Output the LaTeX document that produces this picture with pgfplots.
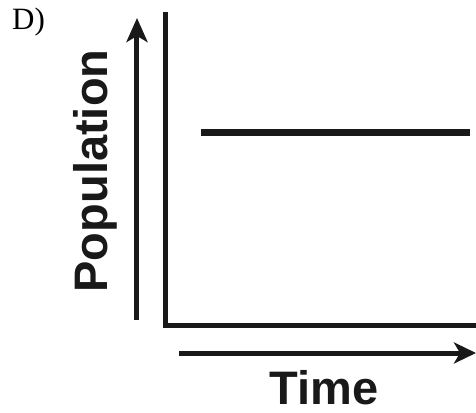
\documentclass[border=0pt]{standalone}
\usepackage{fontspec}
\setmainfont{Liberation Serif}
\newfontfamily\arial{Liberation Sans}
\newfontfamily\serifD{Liberation Serif}
\usepackage{pgfplots}
\pgfplotsset{compat=1.18}
\usetikzlibrary{arrows.meta}
\begin{document}
\begin{tikzpicture}
\begin{axis}[
    at={(0pt,0pt)}, anchor=south west,
    width=310pt, height=310pt, scale only axis,
    xmin=0, xmax=310, ymin=0, ymax=310,
    axis lines*=left,
    axis line style={line width=5pt, line cap=rect, black!90},
    xtick=\empty, ytick=\empty,
    clip=false,
    xlabel={Time}, ylabel={Population},
    label style={font=\arial\bfseries\fontsize{47}{56}\selectfont, text=black!90},
    xlabel style={at={(axis description cs:0.5097,-0.255)}, anchor=base},
    ylabel style={at={(axis description cs:-0.1903,0.4968)}, anchor=base},
]
% constant population
\addplot[black!90, line width=7pt, no markers] coordinates {(35,192) (304,192)};

% direction arrows beside the axes
\draw[black!90, line width=5pt, -{Stealth[length=24pt,width=21pt,inset=6pt]}]
    (axis cs:-29,5) -- (axis cs:-29,307);
\draw[black!90, line width=5pt, -{Stealth[length=22pt,width=21pt,inset=6pt]}]
    (axis cs:13,-28) -- (axis cs:310,-28);
\end{axis}
\node[anchor=base west, inner sep=0pt, font=\serifD\fontsize{31}{36}\selectfont] at (-154pt,295pt) {D)};
\pgfresetboundingbox
\useasboundingbox (-166pt,-87pt) rectangle (310pt,325pt);
\end{tikzpicture}
\end{document}
